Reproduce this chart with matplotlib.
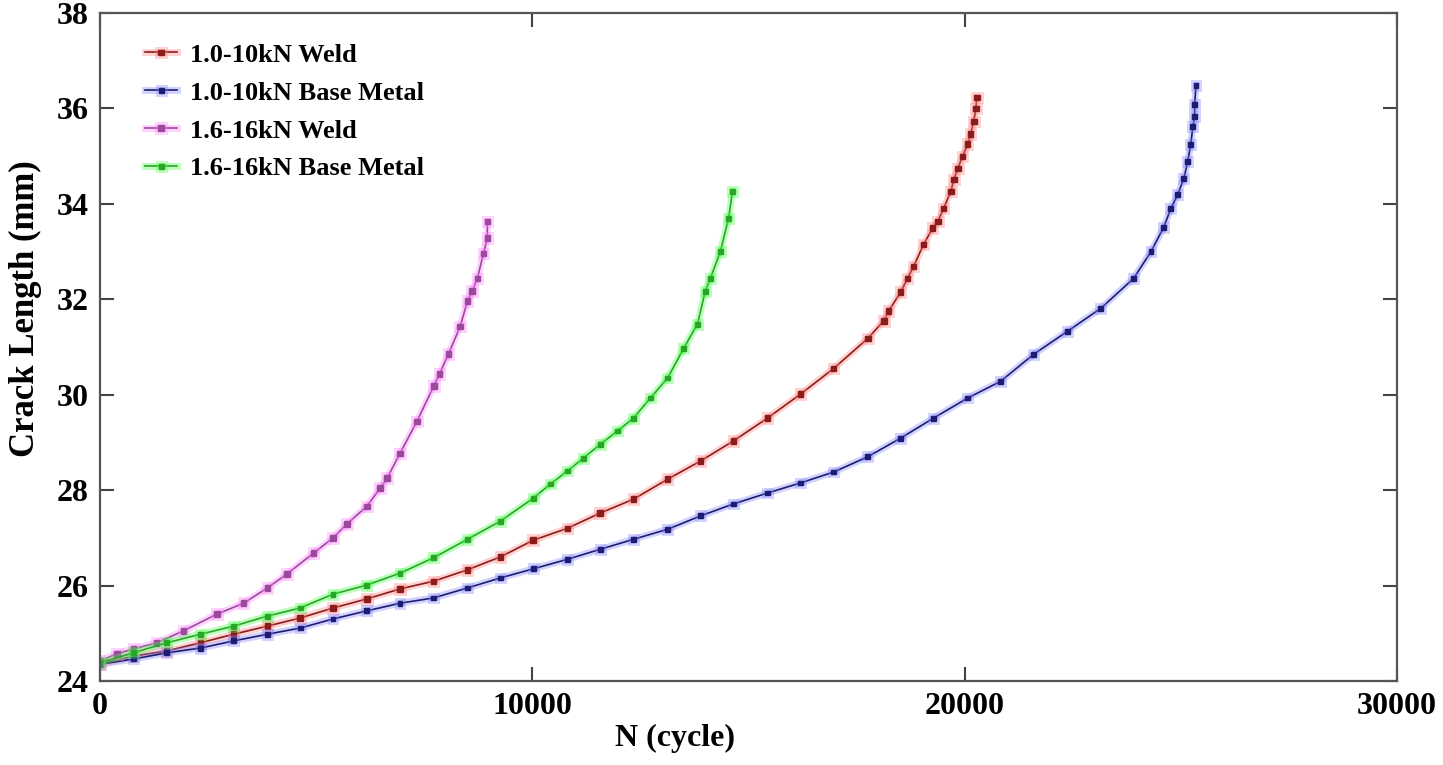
import matplotlib
matplotlib.use('Agg')
import matplotlib.pyplot as plt
import matplotlib.patheffects as pe

plt.rcParams['font.family'] = ['Liberation Serif', 'DejaVu Serif']
plt.rcParams['font.weight'] = 'bold'

# 1.6-16kN Weld
n_weld16 = [0, 390, 770, 1310, 1930, 2700, 3320, 3870, 4320, 4940, 5390, 5710, 6170, 6480,
            6640, 6940, 7330, 7720, 7850, 8060, 8330, 8500, 8610, 8730, 8870, 8960, 8960]
a_weld16 = [24.42, 24.57, 24.67, 24.80, 25.05, 25.40, 25.63, 25.95, 26.24, 26.68, 27.00, 27.29,
            27.66, 28.04, 28.25, 28.77, 29.44, 30.18, 30.43, 30.85, 31.43, 31.96, 32.17, 32.44,
            32.96, 33.28, 33.63]

# 1.6-16kN Base Metal
n_base16 = [0, 770, 1540, 2320, 3090, 3870, 4630, 5390, 6170, 6940, 7710, 8500, 9260, 10020,
            10420, 10810, 11180, 11570, 11970, 12340, 12730, 13130, 13500, 13820, 14000, 14120,
            14350, 14540, 14630]
a_base16 = [24.38, 24.59, 24.80, 24.98, 25.15, 25.36, 25.53, 25.82, 26.01, 26.26, 26.58, 26.97,
            27.35, 27.83, 28.13, 28.40, 28.67, 28.96, 29.24, 29.51, 29.93, 30.35, 30.97, 31.48,
            32.17, 32.44, 33.00, 33.70, 34.26]

# 1.0-10kN Weld
n_weld10 = [0, 770, 1540, 2320, 3090, 3870, 4630, 5390, 6170, 6940, 7710, 8500, 9260, 10020,
            10810, 11570, 12340, 13130, 13890, 14650, 15440, 16200, 16970, 17760, 18130, 18240,
            18520, 18680, 18820, 19050, 19260, 19380, 19510, 19680, 19750, 19840, 19950, 20070,
            20140, 20210, 20260, 20280]
a_weld10 = [24.35, 24.52, 24.63, 24.80, 24.98, 25.15, 25.32, 25.53, 25.72, 25.93, 26.09, 26.33,
            26.60, 26.95, 27.20, 27.52, 27.81, 28.23, 28.61, 29.03, 29.51, 30.01, 30.55, 31.18,
            31.55, 31.75, 32.15, 32.44, 32.69, 33.15, 33.49, 33.63, 33.90, 34.26, 34.51, 34.74,
            34.99, 35.25, 35.46, 35.73, 36.00, 36.23]

# 1.0-10kN Base Metal
n_base10 = [0, 770, 1540, 2320, 3090, 3870, 4630, 5390, 6170, 6940, 7710, 8500, 9260, 10020,
            10810, 11570, 12340, 13130, 13890, 14650, 15440, 16200, 16970, 17760, 18520, 19280,
            20070, 20830, 21600, 22380, 23150, 23910, 24310, 24600, 24770, 24930, 25070, 25160,
            25230, 25280, 25320, 25320, 25350]
a_base10 = [24.35, 24.46, 24.59, 24.69, 24.84, 24.98, 25.11, 25.30, 25.47, 25.63, 25.74, 25.95,
            26.16, 26.35, 26.55, 26.76, 26.97, 27.18, 27.46, 27.71, 27.94, 28.15, 28.38, 28.70,
            29.09, 29.51, 29.93, 30.28, 30.85, 31.33, 31.81, 32.44, 33.00, 33.50, 33.90, 34.20,
            34.53, 34.89, 35.25, 35.62, 35.83, 36.08, 36.48]

x_ticks = [0, 10000, 20000, 30000]
y_ticks = [24, 26, 28, 30, 32, 34, 36, 38]

fig = plt.figure(figsize=(14.43, 7.65), dpi=100)
ax = fig.add_axes([0.0693, 0.1098, 0.8988, 0.8732])


def draw(n, a, col, glow, lab, ms):
    ax.plot(n, a, '-s', color=col, lw=1.2, ms=ms, mfc=col, mec=col, label=lab,
            path_effects=[pe.Stroke(linewidth=5, foreground=glow, alpha=0.35), pe.Normal()])


draw(n_weld10, a_weld10, '#8b1c1c', '#ff8080', '1.0-10kN Weld', 4.0)
draw(n_base10, a_base10, '#1c1c70', '#8080ff', '1.0-10kN Base Metal', 3.5)
draw(n_weld16, a_weld16, '#9a4a9a', '#ff80ff', '1.6-16kN Weld', 4.0)
draw(n_base16, a_base16, '#2aa52a', '#40ff40', '1.6-16kN Base Metal', 3.5)

ax.set_xlim(0, 30000)
ax.set_ylim(24, 38)
ax.set_xticks(x_ticks)
ax.set_yticks(y_ticks)
ax.tick_params(direction='in', length=10, width=1.5, top=True, right=True,
               labelsize=23, pad=8, color='#444444')
for s in ax.spines.values():
    s.set_color('#555555')
    s.set_linewidth(1.6)

ax.set_xlabel('N (cycle)', fontsize=23, fontweight='bold')
ax.set_ylabel('Crack Length (mm)', fontsize=25, fontweight='bold')
ax.xaxis.set_label_coords(0.443, -0.064)
ax.yaxis.set_label_coords(-0.045, 0.557)

leg = ax.legend(loc='upper left', bbox_to_anchor=(0.035, 0.955), frameon=False,
                fontsize=19, handlelength=1.2, handletextpad=0.5, labelspacing=0.55,
                borderpad=0, borderaxespad=0)
for t in leg.get_texts():
    t.set_fontweight('bold')

fig.savefig('out.png', dpi=100)
